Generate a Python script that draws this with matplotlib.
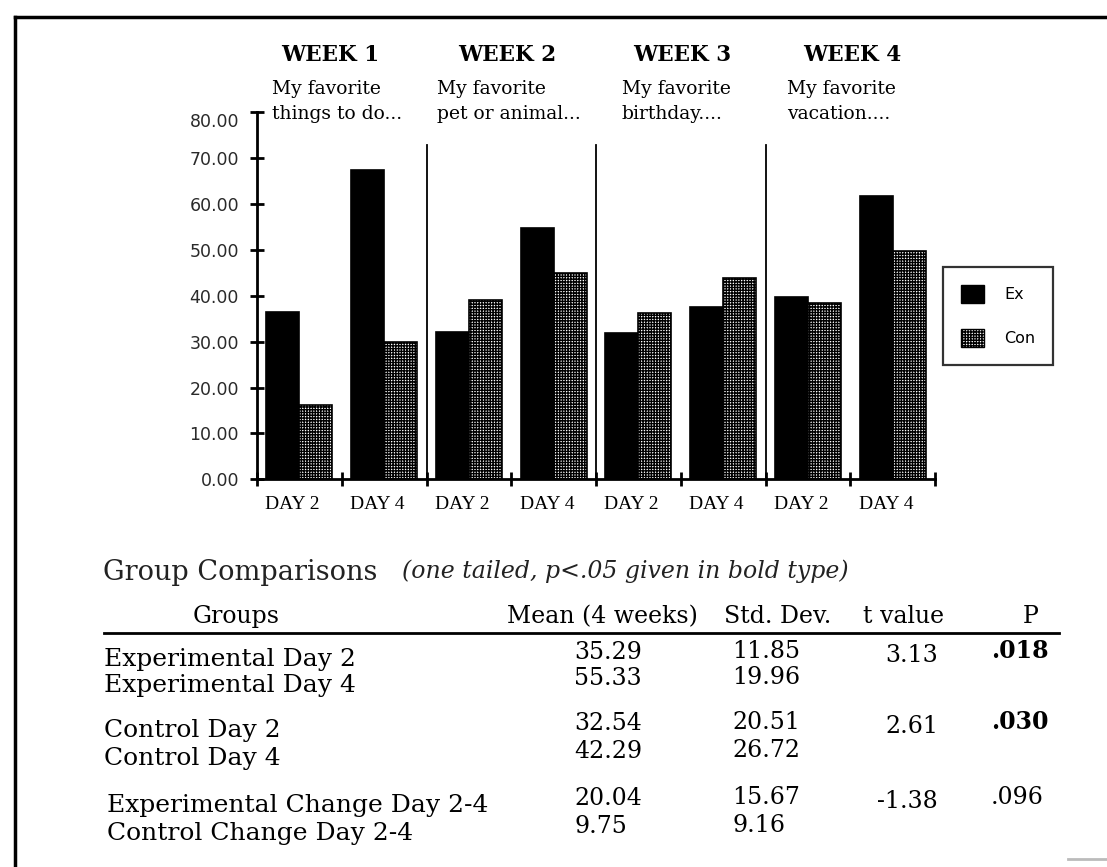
import matplotlib
matplotlib.use("Agg")
import matplotlib.pyplot as plt
import matplotlib.transforms as mtransforms
from matplotlib.patches import Patch
from matplotlib.lines import Line2D
import numpy as np

# ---------------- data ----------------
weeks = ["WEEK 1", "WEEK 2", "WEEK 3", "WEEK 4"]
topics_line1 = ["My favorite", "My favorite", "My favorite", "My favorite"]
topics_line2 = ["things to do...", "pet or animal...", "birthday....", "vacation...."]
day_labels = ["DAY 2", "DAY 4", "DAY 2", "DAY 4", "DAY 2", "DAY 4", "DAY 2", "DAY 4"]
ex_values = [36.4, 67.4, 32.1, 54.7, 31.8, 37.6, 39.7, 61.8]
con_values = [16.1, 29.9, 39.2, 45.0, 36.2, 43.8, 38.5, 49.8]
y_ticks = [0, 10, 20, 30, 40, 50, 60, 70, 80]
series_names = ["Ex", "Con"]

table_title = "Group Comparisons"
table_note = "(one tailed, p<.05 given in bold type)"
col_headers = ["Groups", "Mean (4 weeks)", "Std. Dev.", "t value", "P"]
groups = ["Experimental Day 2", "Experimental Day 4",
          "Control Day 2", "Control Day 4",
          "Experimental Change Day 2-4", "Control Change Day 2-4"]
means = ["35.29", "55.33", "32.54", "42.29", "20.04", "9.75"]
std_devs = ["11.85", "19.96", "20.51", "26.72", "15.67", "9.16"]
t_values = ["3.13", "", "2.61", "", "-1.38", ""]
p_values = [".018", "", ".030", "", ".096", ""]
p_bold = [True, False, True, False, False, False]

# ---------------- figure ----------------
W, H = 1107, 867
plt.rcParams["hatch.linewidth"] = 1.0
fig = plt.figure(figsize=(W / 100, H / 100), dpi=100)
fig.patch.set_facecolor("white")
PX = mtransforms.Affine2D().scale(1, -1).translate(0, H)  # pixel-from-top -> display


def ftext(x, y, s, **kw):
    return fig.text(x, y, s, transform=PX, **kw)


# axes
ax_l, ax_r, ax_top, ax_bot = 257, 935, 112.4, 479.3
ax = fig.add_axes([ax_l / W, 1 - ax_bot / H, (ax_r - ax_l) / W, (ax_bot - ax_top) / H])
x = np.arange(len(ex_values)) + 0.5
bw = 0.39
ax.bar(x - bw / 2, ex_values, width=bw, color="black", edgecolor="black", linewidth=1.2)
ax.bar(x + bw / 2, con_values, width=bw, color="white", edgecolor="black",
       hatch="++++++", linewidth=1.2)
ax.set_xlim(0, len(ex_values))
ax.set_ylim(0, 80)
for s in ["top", "right"]:
    ax.spines[s].set_visible(False)
for s in ["left", "bottom"]:
    ax.spines[s].set_linewidth(2)
ax.set_yticks(y_ticks)
ax.set_yticklabels([f"{v:.2f}" for v in y_ticks], fontsize=12.5, family="DejaVu Sans",
                   color="#2a2a2a")
ax.tick_params(axis="y", direction="inout", length=10, width=2, pad=8)
# the top label sits a little below its tick in the original
top_lab = ax.get_yticklabels()[-1]
top_lab.set_transform(top_lab.get_transform() +
                      mtransforms.ScaledTranslation(0, -8 / 100, fig.dpi_scale_trans))
ax.set_xticks(np.arange(len(ex_values) + 1))
ax.set_xticklabels([])
ax.tick_params(axis="x", direction="inout", length=10, width=2)
for xc, lab in zip(x, day_labels):
    ax.text(xc - 0.08, -0.045, lab, transform=ax.get_xaxis_transform(), ha="center",
            va="top", fontsize=14, family="Liberation Serif")
for xs in [2, 4, 6]:
    ax.axvline(xs, ymin=0, ymax=0.91, color="black", linewidth=1.3)

# week headings
week_cx = [330, 507, 682, 852]
topic_x = [272, 437, 622, 787]
for i in range(len(weeks)):
    ftext(week_cx[i], 61, weeks[i], ha="center", va="baseline", fontsize=15.5,
          family="DejaVu Serif", weight="bold")
    ftext(topic_x[i], 94, topics_line1[i], ha="left", va="baseline", fontsize=13.5,
          family="DejaVu Serif")
    ftext(topic_x[i], 119, topics_line2[i], ha="left", va="baseline", fontsize=13.5,
          family="DejaVu Serif")

# legend
handles = [Patch(facecolor="black", edgecolor="black"),
           Patch(facecolor="white", edgecolor="black", hatch="++++++")]
leg = fig.legend(handles, series_names, loc="upper left",
                 bbox_to_anchor=(943 / W, 1 - 267 / H), frameon=True, fancybox=False,
                 edgecolor="black", handlelength=1.45, handleheight=1.4,
                 borderpad=1.1, labelspacing=1.6, handletextpad=1.3, borderaxespad=0,
                 prop={"family": "DejaVu Sans", "size": 11.5})
leg.get_frame().set_linewidth(1.6)

# ---------------- table ----------------
tfs = 17
lfs = 18
ftext(103, 580, table_title, ha="left", va="baseline", fontsize=19.5, family="DejaVu Serif",
      color="#222222")
ftext(402, 578, table_note, ha="left", va="baseline", fontsize=17, family="DejaVu Serif",
      style="italic", color="#222222")
header_x = [193, 507, 724, 863, 1023]
for hx, h in zip(header_x, col_headers):
    ftext(hx, 623, h, ha="left", va="baseline", fontsize=tfs, family="DejaVu Serif")
fig.add_artist(Line2D([104, 1059], [633, 633], transform=PX, color="black", linewidth=2))

label_base = [666, 692, 737, 765, 812, 840]
label_x = [104, 104, 104, 104, 107, 107]
for i, g in enumerate(groups):
    yb = label_base[i]
    ftext(label_x[i], yb, g, ha="left", va="baseline", fontsize=lfs, family="DejaVu Serif")
    ftext(574, yb - 7, means[i], ha="left", va="baseline", fontsize=tfs, family="DejaVu Serif")
    ftext(732, yb - 8, std_devs[i], ha="left", va="baseline", fontsize=tfs,
          family="DejaVu Serif")
    if t_values[i]:
        ftext(938, yb - 4, t_values[i], ha="right", va="baseline", fontsize=tfs,
              family="DejaVu Serif")
    if p_values[i]:
        ftext(991, yb - 8, p_values[i], ha="left", va="baseline", fontsize=tfs,
              family="DejaVu Serif", weight="bold" if p_bold[i] else "normal")

# page frame lines
fig.add_artist(Line2D([15, 15], [17, 867], transform=PX, color="black", linewidth=2.5))
fig.add_artist(Line2D([15, 1107], [17, 17], transform=PX, color="black", linewidth=2.5))
fig.add_artist(Line2D([1068, 1107], [859, 859], transform=PX, color="#bbbbbb", linewidth=2))

fig.savefig("out.png", dpi=100, facecolor="white")
